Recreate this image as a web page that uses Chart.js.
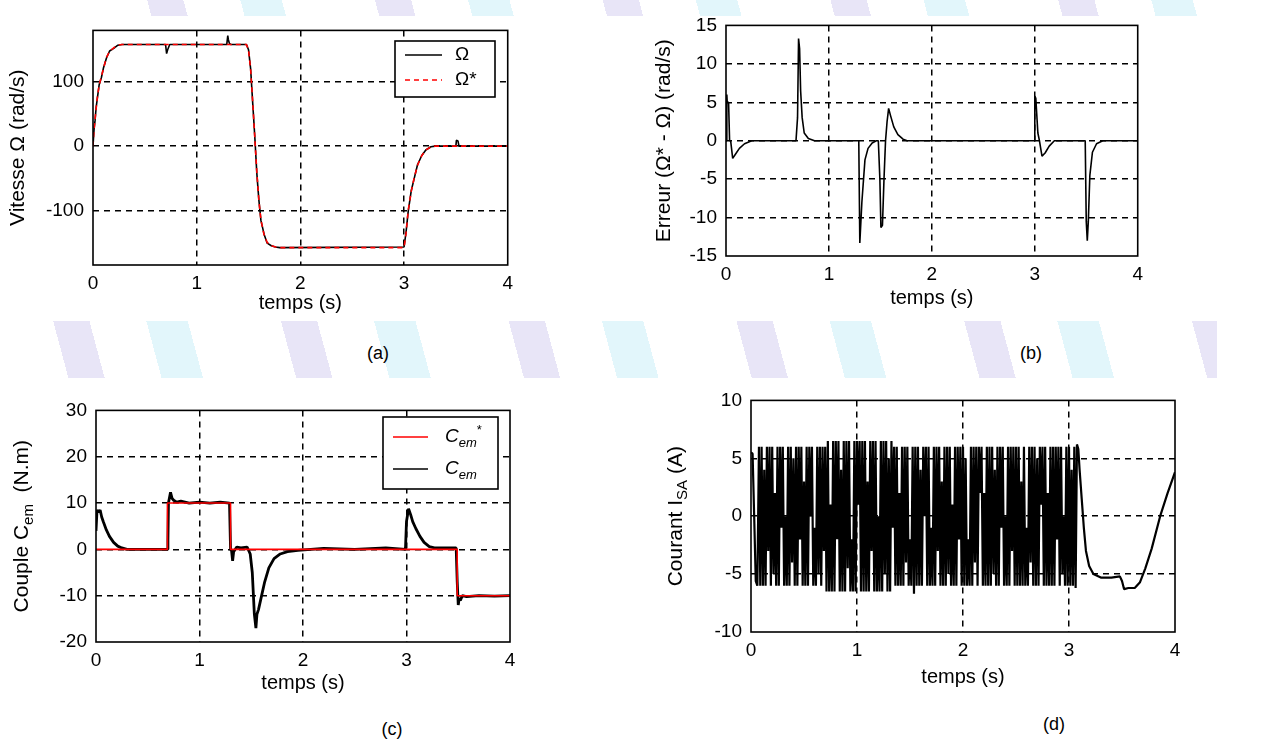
<!DOCTYPE html>
<html>
<head>
<meta charset="utf-8">
<script src="https://cdn.jsdelivr.net/npm/chart.js@4.4.1/dist/chart.umd.min.js"></script>
<style>
  body { margin: 0; width: 1288px; height: 745px; background: #fff; position: relative; overflow: hidden;
         font-family: "Liberation Sans", Arial, sans-serif; }
  .strip { position: absolute;
           background: repeating-linear-gradient(75deg, #fff 0 40px, #e8e5f7 40px 75px, #fff 75px 130px, #e2f6fb 130px 170px, #fff 170px 220px); }
  canvas { position: absolute; }
  .cap { position: absolute; font-size: 18px; transform: translate(-50%, -50%); }
</style>
</head>
<body>
<div class="strip" style="left:110px;top:0;width:1110px;height:16px"></div>
<div class="strip" style="left:27px;top:321px;width:1190px;height:57px"></div>

<canvas id="chartA" width="520" height="305" style="left:0px;top:10px"></canvas>
<canvas id="chartB" width="510" height="305" style="left:640px;top:5px"></canvas>
<canvas id="chartC" width="525" height="305" style="left:0px;top:390px"></canvas>
<canvas id="chartD" width="540" height="309" style="left:650px;top:380px"></canvas>

<div class="cap" style="left:378px;top:353px">(a)</div>
<div class="cap" style="left:1031px;top:353px">(b)</div>
<div class="cap" style="left:392px;top:729px">(c)</div>
<div class="cap" style="left:1054px;top:724px">(d)</div>

<script>
// ---- data ----
const xTicks = [0, 1, 2, 3, 4];
const aTicks = [-100, 0, 100];
const bTicks = [-15, -10, -5, 0, 5, 10, 15];
const cTicks = [-20, -10, 0, 10, 20, 30];
const dTicks = [-10, -5, 0, 5, 10];

// (a) speed reference and measured speed
const omegaRefT = [0, 0.01, 0.02, 0.03, 0.045, 0.06, 0.08, 0.1, 0.13, 0.16, 0.2, 0.24, 0.28,
  1.48, 1.5, 1.52, 1.54, 1.56, 1.58, 1.6, 1.62, 1.65, 1.68, 1.72, 1.76, 1.8,
  3.0, 3.02, 3.04, 3.07, 3.1, 3.13, 3.17, 3.21, 3.26, 3.3, 4];
const omegaRef = [0, 25, 42, 58, 80, 95, 108, 120, 138, 147, 153, 157, 158,
  158, 150, 120, 70, 15, -40, -85, -115, -138, -150, -155, -157, -158,
  -158, -135, -100, -70, -48, -30, -15, -6, -1, 0, 0];
const omegaT = [0, 0.01, 0.02, 0.03, 0.045, 0.06, 0.08, 0.1, 0.13, 0.16, 0.2, 0.24, 0.28,
  0.7, 0.71, 0.72, 0.74,
  1.29, 1.3, 1.305, 1.315, 1.33,
  1.48, 1.5, 1.52, 1.54, 1.56, 1.58, 1.6, 1.62, 1.65, 1.68, 1.72, 1.76, 1.8,
  3.0, 3.02, 3.04, 3.07, 3.1, 3.13, 3.17, 3.21, 3.26, 3.3,
  3.49, 3.5, 3.505, 3.52, 3.53, 4];
const omega = [0, 26, 40, 60, 78, 96, 106, 121, 137, 148, 152, 157, 158,
  158, 144, 150, 158,
  158, 172, 166, 160, 158,
  158, 150, 121, 68, 16, -42, -84, -116, -137, -151, -155, -157, -158,
  -157, -133, -102, -69, -49, -29, -15, -6, -1, 0,
  0, 0, 9, 8, 0, 0];

// (b) speed error
const errT = [0, 0.008, 0.012, 0.025, 0.035, 0.045, 0.065, 0.09, 0.13, 0.18, 0.25,
  0.68, 0.695, 0.705, 0.715, 0.725, 0.74, 0.76, 0.8, 0.86,
  1.29, 1.3, 1.305, 1.32, 1.35, 1.38, 1.42, 1.46,
  1.48, 1.495, 1.505, 1.52, 1.535, 1.55, 1.565, 1.58, 1.6, 1.63, 1.67, 1.72, 1.76,
  2.995, 3.0, 3.01, 3.03, 3.045, 3.07, 3.1, 3.14, 3.19,
  3.49, 3.5, 3.51, 3.52, 3.535, 3.56, 3.6, 3.66, 4];
const err = [0, 6, 5, 5, 0, 0, -2.3, -1.8, -1, -0.4, 0,
  0, 3, 13.3, 12, 6.5, 3, 1, 0.3, 0,
  0, -13.3, -12, -8, -2.5, -1, -0.3, 0,
  0, -5, -11.3, -11, -5, 0, 2.5, 4.2, 3.2, 1.8, 0.8, 0.2, 0,
  0, 5.8, 5.5, 1, 0, -2, -1.6, -0.7, 0,
  0, -10.5, -13, -10.5, -4.5, -1.5, -0.4, 0, 0];

// (c) torque reference and electromagnetic torque
const cemRefT = [0, 0.69, 0.69, 1.3, 1.3, 3.49, 3.49, 4];
const cemRef = [0, 0, 10, 10, 0, 0, -10, -10];
const cemT = [0, 0.01, 0.025, 0.04, 0.055, 0.07, 0.1, 0.13, 0.17, 0.21, 0.25, 0.3,
  0.69, 0.695, 0.7, 0.72, 0.735, 0.75, 0.78, 0.82, 0.9, 1.0, 1.1, 1.2, 1.29,
  1.3, 1.31, 1.32, 1.33, 1.36, 1.4, 1.46,
  1.49, 1.51, 1.53, 1.545, 1.555, 1.57, 1.6, 1.63, 1.67, 1.72, 1.78, 1.85, 1.95,
  2.2, 2.5, 2.8, 2.99,
  3.0, 3.02, 3.04, 3.06, 3.09, 3.13, 3.17, 3.22, 3.27,
  3.48, 3.49, 3.5, 3.51, 3.52, 3.54, 3.58, 3.7, 3.85, 4];
const cem = [4, 8.5, 8, 8.5, 7, 6, 4.2, 2.8, 1.5, 0.7, 0.3, 0,
  0, 2, 10, 12.3, 11, 10.6, 10.2, 10.4, 10, 10.2, 10, 10.2, 10,
  0, -0.3, -2.5, -0.5, 0.5, 0.3, 0.5,
  -1, -5, -14, -17, -14, -13, -10, -7, -4, -2, -1, -0.5, -0.2,
  0.2, 0, 0.3, 0,
  6, 8.8, 7.5, 6, 4.5, 2.8, 1.5, 0.6, 0.3,
  0.3, -7, -12, -10.5, -11, -10, -10.2, -10, -10.1, -10];

// (d) stator current, phase A (successive peaks as they show on the plot)
const isaT = [0, 0.015, 0.03, 0.045, 0.06,
  0.075, 0.0875, 0.1, 0.1125, 0.125, 0.1375, 0.15, 0.1625, 0.175, 0.1875,
  0.2, 0.2125, 0.225, 0.2375, 0.25, 0.2625, 0.275, 0.2875, 0.3, 0.3125,
  0.325, 0.3375, 0.35, 0.3625, 0.375, 0.3875, 0.4, 0.4125, 0.425, 0.4375,
  0.45, 0.4625, 0.475, 0.4875, 0.5, 0.5125, 0.525, 0.5375, 0.55, 0.5625,
  0.575, 0.5875, 0.6, 0.6125, 0.625, 0.6375, 0.65, 0.6625, 0.675, 0.6875,
  0.7, 0.7125, 0.725, 0.7375, 0.75, 0.7625, 0.775, 0.7875, 0.8, 0.8125,
  0.825, 0.8375, 0.85, 0.8625, 0.875, 0.8875, 0.9, 0.9125, 0.925, 0.9375,
  0.95, 0.9625, 0.975, 0.9875, 1.0, 1.0125, 1.025, 1.0375, 1.05, 1.0625,
  1.075, 1.0875, 1.1, 1.1125, 1.125, 1.1375, 1.15, 1.1625, 1.175, 1.1875,
  1.2, 1.2125, 1.225, 1.2375, 1.25, 1.2625, 1.275, 1.2875, 1.3, 1.3125,
  1.325, 1.3375, 1.35, 1.3625, 1.375, 1.3875, 1.4, 1.4125, 1.425, 1.4375,
  1.45, 1.4625, 1.475, 1.4875, 1.5, 1.5125, 1.525, 1.5375, 1.55, 1.5625,
  1.575, 1.5875, 1.6, 1.6125, 1.625, 1.6375, 1.65, 1.6625, 1.675, 1.6875,
  1.7, 1.7125, 1.725, 1.7375, 1.75, 1.7625, 1.775, 1.7875, 1.8, 1.8125,
  1.825, 1.8375, 1.85, 1.8625, 1.875, 1.8875, 1.9, 1.9125, 1.925, 1.9375,
  1.95, 1.9625, 1.975, 1.9875, 2.0, 2.0125, 2.025, 2.0375, 2.05, 2.0625,
  2.075, 2.0875, 2.1, 2.1125, 2.125, 2.1375, 2.15, 2.1625, 2.175, 2.1875,
  2.2, 2.2125, 2.225, 2.2375, 2.25, 2.2625, 2.275, 2.2875, 2.3, 2.3125,
  2.325, 2.3375, 2.35, 2.3625, 2.375, 2.3875, 2.4, 2.4125, 2.425, 2.4375,
  2.45, 2.4625, 2.475, 2.4875, 2.5, 2.5125, 2.525, 2.5375, 2.55, 2.5625,
  2.575, 2.5875, 2.6, 2.6125, 2.625, 2.6375, 2.65, 2.6625, 2.675, 2.6875,
  2.7, 2.7125, 2.725, 2.7375, 2.75, 2.7625, 2.775, 2.7875, 2.8, 2.8125,
  2.825, 2.8375, 2.85, 2.8625, 2.875, 2.8875, 2.9, 2.9125, 2.925, 2.9375,
  2.95, 2.9625, 2.975, 2.9875, 3.0, 3.0125, 3.025, 3.0375, 3.05, 3.0625,
  3.075, 3.088, 3.1, 3.12, 3.14, 3.16, 3.19, 3.23, 3.3, 3.4, 3.48,
  3.5, 3.52, 3.56, 3.62, 3.67, 3.72, 3.78, 3.86, 3.93, 4.0];
const isa = [5.5, 5.4, 0, -5.6, -6,
  6, -6, 6, -6, 4, -6, 6, -3, 6, -6,
  6, -5, 2, -6, 6, -6, 6, -1, 6, -6,
  0, -6, 6, -6, 6, -4, 5, -6, 6, -6,
  6, -2, 6, -6, 3, -6, 6, -6, 6, 0,
  6, -6, -1, -6, 6, -5, 6, -6, 6, -3,
  6, -6.5, 6.5, -6.5, 1, -6.5, 6.5, -6.5, 6.5, -2,
  6.5, -6.5, 4, -6.5, 6.5, -6.5, 6.5, -4.5, 6.5, -6.5,
  -2, -6.5, 6.5, -6.5, 6.5, 1, 6.5, -6.5, 6.5, -6.5,
  6.5, -6.5, 3, -6.5, 6.5, -3, 6.5, -6.5, 6.5, -6.5,
  0, -6.5, 6.5, -6.5, 6.5, -5, 6.5, -6.5, 5, -6.5,
  6.5, -1, 6, -6, 6, -6, 2, -6, 6, -6,
  6, -4, 6, -6, -2, -6, 6, -6.7, 6, -6,
  6, -6, 4, -6, 6, 0, 6, -6, 6, -6,
  -1, -6, 6, -6, 6, -3, 6, -6, 3, -6,
  6, -6, 6, -5, 6, -6, 1, -6, 6, -6,
  6, -2, 6, -6, 6, -6, 5, -6, -2, -6,
  6, -6, 6, -4, 6, -6, 6, 2, 6, -6,
  2, -6, 6, -6, 6, -6, 6, -5, 4, -6,
  6, -6, 6, -1, 6, -6, 0, -6, 6, -6,
  6, -3, 6, -6, 6, -6, 6, -6, 3, -6,
  6, -6, -1, -6, 6, -4, 6, -6, 6, -6,
  5, -6, 6, 1, 6, -6, 6, -6, 2, -6,
  6, -6, 6, -6, 6, -2, 6, -6, 6, -5,
  0, -6, 6, -6, 6, -6, 4, -6, 6, -6.2,
  6.2, 5.8, 4, 1.5, -1, -3, -4.3, -5, -5.3, -5.3, -5.2,
  -5.6, -6.3, -6.2, -6.2, -5.7, -4.5, -2.8, 0, 2, 3.8];

// ---- helpers ----
const FONT = '"Liberation Sans", Arial, sans-serif';
Chart.defaults.font.family = FONT;
Chart.defaults.color = '#000';
Chart.defaults.animation = false;

function pts(ts, vs) {
    return ts.map((t, i) => ({ x: t, y: vs[i] }));
}

function fontFor(p, size) {
    const s = (p.sub || p.sup) ? Math.round(size * 0.7) : size;
    return (p.it ? 'italic ' : '') + s + 'px ' + FONT;
}

// draws text made of parts, some of them subscript / superscript
function drawRich(ctx, parts, x, y, size, align) {
    let w = 0;
    parts.forEach(p => { ctx.font = fontFor(p, size); w += ctx.measureText(p.t).width; });
    let cx = align === 'center' ? x - w / 2 : x;
    ctx.textAlign = 'left';
    ctx.textBaseline = 'middle';
    parts.forEach(p => {
        ctx.font = fontFor(p, size);
        const dy = p.sub ? size * 0.32 : (p.sup ? -size * 0.35 : 0);
        ctx.fillText(p.t, cx, y + dy);
        cx += ctx.measureText(p.t).width;
    });
}

function drawLegend(chart, lg) {
    const ctx = chart.ctx;
    ctx.save();
    ctx.fillStyle = '#fff';
    ctx.fillRect(lg.x, lg.y, lg.w, lg.h);
    ctx.strokeStyle = '#000';
    ctx.lineWidth = 1.6;
    ctx.strokeRect(lg.x, lg.y, lg.w, lg.h);
    lg.items.forEach(it => {
        const ds = chart.data.datasets[it.ds];
        const y = lg.y + it.dy;
        ctx.strokeStyle = ds.borderColor;
        ctx.lineWidth = 1.6;
        ctx.setLineDash(ds.borderDash || []);
        ctx.beginPath();
        ctx.moveTo(lg.x + 10, y);
        ctx.lineTo(lg.x + lg.lineEnd, y);
        ctx.stroke();
        ctx.setLineDash([]);
        ctx.fillStyle = '#000';
        drawRich(ctx, it.label, lg.x + lg.textX, y, 19, 'left');
    });
    ctx.restore();
}

// frame, y title and legend
function decor(key, opts) {
    return {
        id: 'decor' + key,
        afterDraw(chart) {
            const { ctx, chartArea: a } = chart;
            ctx.save();
            ctx.strokeStyle = '#000';
            ctx.lineWidth = 1.6;
            ctx.setLineDash([]);
            ctx.strokeRect(a.left, a.top, a.right - a.left, a.bottom - a.top);
            ctx.translate(opts.titleX, (a.top + a.bottom) / 2);
            ctx.rotate(-Math.PI / 2);
            ctx.fillStyle = '#000';
            drawRich(ctx, opts.title, 0, 0, 21, 'center');
            ctx.restore();
            if (opts.legend) drawLegend(chart, opts.legend);
        }
    };
}

function gridColor(c) {
    const s = c.scale;
    if (c.tick && (c.tick.value <= s.min || c.tick.value >= s.max)) return 'rgba(0,0,0,0)';
    return '#000';
}

function makeScales(lay, yMin, yMax, yTickList) {
    const grid = { color: gridColor, lineWidth: 1.5, drawTicks: false };
    const border = { display: false, dash: [6, 5] };
    return {
        x: {
            type: 'linear', min: 0, max: 4,
            afterBuildTicks: s => { s.ticks = xTicks.map(v => ({ value: v })); },
            afterFit: s => { s.height = lay.xH; },
            ticks: { font: { size: 19 }, padding: 7, maxRotation: 0, autoSkip: false },
            grid: grid, border: border,
            title: { display: true, text: 'temps (s)', font: { size: 20 }, padding: 0 }
        },
        y: {
            type: 'linear', min: yMin, max: yMax,
            afterBuildTicks: s => { s.ticks = yTickList.map(v => ({ value: v })); },
            afterFit: s => { s.width = lay.yW; },
            ticks: { font: { size: 19 }, padding: 9, autoSkip: false },
            grid: grid, border: border
        }
    };
}

function makeChart(id, datasets, lay, yMin, yMax, yTickList, deco) {
    return new Chart(document.getElementById(id), {
        type: 'line',
        data: { datasets: datasets },
        options: {
            responsive: false,
            devicePixelRatio: 1,
            parsing: false,
            normalized: true,
            elements: { point: { radius: 0 }, line: { tension: 0, borderJoinStyle: 'bevel' } },
            layout: { padding: { left: 0, top: lay.padT, right: lay.padR, bottom: 0 } },
            scales: makeScales(lay, yMin, yMax, yTickList),
            plugins: { legend: { display: false }, tooltip: { enabled: false } }
        },
        plugins: [deco]
    });
}

// (a)
makeChart('chartA', [
    { label: 'Ω*', data: pts(omegaRefT, omegaRef), borderColor: '#ff0000', borderWidth: 1.6, borderDash: [5, 4] },
    { label: 'Ω', data: pts(omegaT, omega), borderColor: '#000', borderWidth: 1.6 }
], { padT: 18, padR: 12, yW: 93, xH: 50 }, -185, 180, aTicks,
    decor('A', {
        titleX: 18,
        title: [{ t: 'Vitesse Ω (rad/s)' }],
        legend: { x: 395, y: 31, w: 100, h: 56, lineEnd: 47, textX: 60, items: [
            { ds: 1, dy: 14, label: [{ t: 'Ω' }] },
            { ds: 0, dy: 39, label: [{ t: 'Ω*' }] }
        ] }
    }));

// (b)
makeChart('chartB', [
    { label: 'Erreur', data: pts(errT, err), borderColor: '#000', borderWidth: 1.6 }
], { padT: 14, padR: 12, yW: 86, xH: 54 }, -15, 15, bTicks,
    decor('B', { titleX: 24, title: [{ t: 'Erreur (Ω* - Ω) (rad/s)' }] }));

// (c)
makeChart('chartC', [
    { label: 'Cem*', data: pts(cemRefT, cemRef), borderColor: '#ff0000', borderWidth: 1.6 },
    { label: 'Cem', data: pts(cemT, cem), borderColor: '#000', borderWidth: 2.8 }
], { padT: 14, padR: 15, yW: 96, xH: 53 }, -20, 30, cTicks,
    decor('C', {
        titleX: 22,
        title: [{ t: 'Couple C' }, { t: 'em', sub: true }, { t: '  (N.m)' }],
        legend: { x: 383, y: 27, w: 115, h: 72, lineEnd: 45, textX: 62, items: [
            { ds: 0, dy: 20, label: [{ t: 'C', it: true }, { t: 'em', it: true, sub: true }, { t: '*', sup: true }] },
            { ds: 1, dy: 52, label: [{ t: 'C', it: true }, { t: 'em', it: true, sub: true }] }
        ] }
    }));

// (d)
makeChart('chartD', [
    { label: 'Isa', data: pts(isaT, isa), borderColor: '#000', borderWidth: 2.2 }
], { padT: 15, padR: 15, yW: 101, xH: 57 }, -10, 10, dTicks,
    decor('D', { titleX: 26, title: [{ t: 'Courant I' }, { t: 'SA', sub: true }, { t: ' (A)' }] }));
</script>
</body>
</html>
